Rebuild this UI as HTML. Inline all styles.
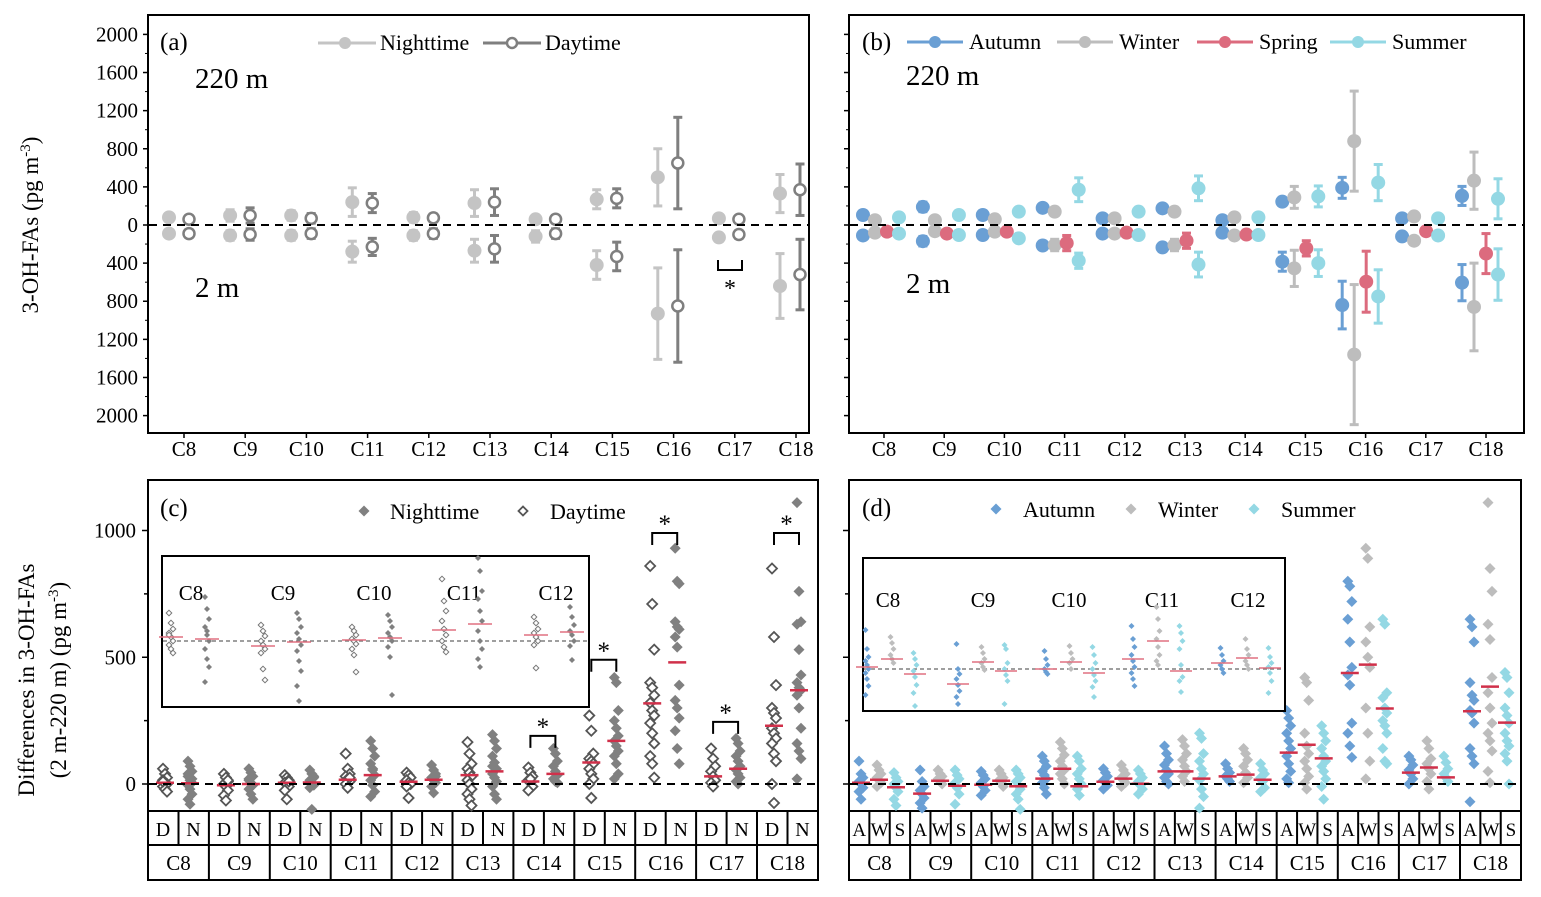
<!DOCTYPE html>
<html><head><meta charset="utf-8"><style>
html,body{margin:0;padding:0;background:#fff}
svg{display:block}
text{font-family:"Liberation Serif","Times New Roman","DejaVu Serif",serif}
</style></head><body>
<svg id="s" width="1541" height="897" viewBox="0 0 1541 897" xmlns="http://www.w3.org/2000/svg"></svg>
<script>
// ===== data =====
const cats=["C8","C9","C10","C11","C12","C13","C14","C15","C16","C17","C18"];
const yTicksAB=[2000,1600,1200,800,400,0,-400,-800,-1200,-1600,-2000];
const yTicksCD=[0,500,1000];
// (a) mean / err
const aNight220=[80,100,100,240,80,230,60,270,500,70,330];
const aNight220E=[40,60,50,150,50,140,40,100,300,40,200];
const aDay220=[60,100,70,230,75,240,60,280,650,60,370];
const aDay220E=[40,80,50,100,40,140,40,100,480,30,270];
const aNight2=[90,110,110,280,110,270,120,420,930,130,640];
const aNight2E=[40,50,50,110,50,120,60,150,480,40,340];
const aDay2=[90,100,90,230,90,250,90,330,850,100,520];
const aDay2E=[40,60,50,90,50,140,50,150,590,40,370];
// (b)
const bAut220=[105,190,105,180,70,175,50,245,390,70,305];
const bAut220E=[40,50,40,40,30,40,30,40,110,30,100];
const bWin220=[50,50,60,140,70,140,80,290,880,90,465];
const bWin220E=[30,30,30,40,30,40,30,115,525,30,300];
const bSum220=[80,105,140,370,140,385,80,300,445,70,275];
const bSum220E=[30,30,40,125,40,130,30,110,190,30,210];
const bAut2=[110,170,105,215,90,235,80,385,840,120,605];
const bAut2E=[40,50,40,40,40,40,30,100,250,30,190];
const bWin2=[80,65,70,210,90,210,110,455,1360,165,860];
const bWin2E=[30,30,30,60,30,60,30,190,735,40,460];
const bSpr2=[70,90,70,190,80,165,100,245,595,65,300];
const bSpr2E=[30,30,30,80,30,80,30,80,320,30,210];
const bSum2=[90,105,140,375,105,415,105,400,750,110,520];
const bSum2E=[30,30,30,80,30,130,30,140,280,30,270];
// (c)
const cDay=[[60,40,25,15,5,0,-10,-20,-30,10],[40,25,10,0,-10,-25,-45,-65,15],[35,25,15,5,0,-10,-25,-60,10],[120,60,40,30,20,10,0,-15,25],[45,35,25,15,5,0,-10,-55],[165,120,80,60,45,30,15,0,-20,-40,-60,-85],[65,45,30,15,5,-10,-25,20],[270,210,120,100,90,80,60,40,20,0,-55],[860,710,530,400,380,350,320,290,270,240,200,160,110,80,25],[140,100,70,50,30,15,5,-10],[850,580,390,300,280,260,220,200,180,160,120,90,0,-75]];
const cNight=[[90,70,50,30,15,5,-5,-20,-40,-60,-80,20,40],[60,45,30,15,5,-5,-20,-40,-60,20],[55,40,25,15,5,-5,-15,-100,30],[170,140,110,80,55,35,15,-5,-30,-50,60],[75,55,40,25,15,5,-10,-35,30],[195,170,140,110,85,60,40,25,10,-10,-40,-60,70],[140,120,90,70,50,35,20,10,5],[420,400,290,250,220,190,170,150,130,110,80,40,20],[930,800,790,640,620,610,580,540,390,330,300,260,210,140,80],[180,160,130,110,90,70,55,40,25,10,0],[1110,760,640,630,530,430,400,380,370,350,300,220,160,130,100,20]];
const cDayMean=[5,-5,5,17,9,35,10,85,318,30,230];
const cNightMean=[3,0,6,35,17,50,40,170,480,60,370];
const cSig=[6,7,8,9,10];
const cSigLevel=[190,490,990,245,990];
const cInsetDay=[[28,18,12,8,4,0,-4,-8,-12,6],[16,10,5,0,-4,-8,-12,-28,-39],[14,10,6,2,0,-3,-8,-14,-31],[62,40,30,20,12,6,0,-6,-11],[24,18,12,8,4,0,-4,-27]];
const cInsetNight=[[44,32,22,14,6,0,-8,-18,-26,-41,10],[28,22,14,8,2,-4,-10,-20,-30,-45,-60],[26,20,14,8,4,0,-6,-16,-54],[83,70,50,42,30,20,10,0,-8,-18,-26],[34,24,16,10,6,0,-5,-19]];
const cInsetDayMean=[4,-5,1,11,6];
const cInsetNightMean=[2,-1,3,17,9];
// (d)
const dAut=[[90,40,25,10,0,-15,-30,-60],[55,10,-10,-25,-40,-55,-75,-95],[50,35,20,5,-10,-25,-45],[110,90,70,50,35,20,5,-15,-40],[60,45,30,15,5,-5,-20],[150,120,95,75,55,40,25,10,0],[80,60,45,30,20,10],[290,260,230,200,170,140,110,80,50,20,5],[800,780,720,650,560,460,430,390,240,200,150,105],[110,95,75,55,40,20,0],[650,620,560,400,350,330,290,280,240,140,110,80,-70]];
const dWin=[[75,55,40,25,15,5,-10],[55,40,30,20,10,0],[55,40,25,15,5,-10],[165,140,115,90,70,55,40,20,0],[75,55,40,25,15,5,-10],[175,150,120,95,70,50,30,10],[140,120,95,70,45,25,5],[420,400,330,200,150,120,90,60,30,5,-20],[930,890,620,560,500,460,300,200,90,20],[170,140,100,80,60,40,10,-20],[1110,850,760,630,570,420,360,300,240,200,170,130,50,5]];
const dSum=[[45,25,10,0,-15,-30,-60,-85],[55,35,20,5,-15,-40,-80],[55,40,25,10,-5,-20,-40,-60,-100],[110,90,60,40,20,0,-20,-45],[55,40,25,10,-5,-20,-40],[200,180,120,90,60,40,15,-20,-50,-95],[80,55,40,25,10,-15,-30],[230,200,170,140,110,90,70,50,20,-10,-60],[650,630,360,340,300,280,250,230,200,140,90,80],[110,85,60,40,25,10],[440,420,360,300,270,240,200,170,150,120,90,0]];
const dAutMean=[5,-38,-3,21,9,50,30,124,438,45,287];
const dWinMean=[17,13,13,60,21,50,37,155,471,65,384];
const dSumMean=[-13,-7,-9,-9,1,21,17,101,298,26,242];
const dInsetAut=[[39,20,12,8,4,0,-4,-10,-17,-26],[25,0,-5,-10,-16,-22,-28,-35],[18,10,4,0,-3,-5],[43,30,22,14,8,2,-4,-10,-17],[21,14,8,4,0,-4]];
const dInsetWin=[[32,26,20,14,10,6],[22,16,10,6,2,-1],[23,16,10,6,0],[62,50,38,30,22,14,8,4],[30,20,14,8,4,0]];
const dInsetSum=[[16,10,4,-2,-8,-16,-24,-37],[24,20,6,0,-6,-12,-35],[22,14,6,0,-6,-12,-18,-28],[43,36,28,20,4,-8,-12,-23],[21,12,6,2,-4,-12,-24]];
const dInsetAutMean=[2,-15,0,10,6];
const dInsetWinMean=[10,7,7,28,11];
const dInsetSumMean=[-5,-2,-4,-2,1];

// ===== helpers =====
const S=document.getElementById('s');const NS="http://www.w3.org/2000/svg";
const FF='"Liberation Serif","Times New Roman","DejaVu Serif",serif';
function mk(tag,at,parent){const e=document.createElementNS(NS,tag);for(const k in at)e.setAttribute(k,at[k]);(parent||S).appendChild(e);return e;}
function txt(x,y,t,size,anchor,parent){const e=mk('text',{x:x,y:y,'font-size':size,'text-anchor':anchor||'start',fill:'#000'},parent);e.style.fontFamily=FF;e.textContent=t;return e;}
function grp(name){const g=mk('g',{});return g;}
function diamond(x,y,r,fill,stroke,sw,g){return mk('path',{d:`M${x} ${y-r}L${x+r} ${y}L${x} ${y+r}L${x-r} ${y}Z`,fill:fill,stroke:stroke,'stroke-width':sw},g);}
const yAB=v=>225-v*0.0953;
const yCD=v=>784-v*0.2535;
const xA=i=>179+61.1*i;
const xAl=i=>184+61.2*i;
const xB=i=>881+59.9*i;
const xBl=i=>884+60.2*i;
const xC=i=>148+60.9*i;
const xD=i=>849+61.1*i;

function frame(x,y,w,h,name){const r=mk('rect',{x:x,y:y,width:w,height:h,fill:'none',stroke:'#000','stroke-width':2});}
function yAxisAB(x0,labels,g){
  yTicksAB.forEach(v=>{const y=yAB(v);mk('line',{x1:x0-5,x2:x0,y1:y,y2:y,stroke:'#000','stroke-width':1.5},g);
    if(labels){const t=txt(x0-10,y+7,String(Math.abs(v)),21,'end',g);}
    if(v>-2000)mk('line',{x1:x0-3,x2:x0,y1:yAB(v-200),y2:yAB(v-200),stroke:'#000','stroke-width':1},g);});
}
function xAxisAB(xf,g){cats.forEach((c,i)=>{const x=xf(i);mk('line',{x1:x,x2:x,y1:433,y2:438,stroke:'#000','stroke-width':1.5},g);
  const t=txt(x,456,c,21,'middle',g);});}
function errPt(x,m,e,col,open,g){
  mk('line',{x1:x,x2:x,y1:yAB(m+e),y2:yAB(m-e),stroke:col,'stroke-width':3},g);
  mk('line',{x1:x-4.5,x2:x+4.5,y1:yAB(m+e),y2:yAB(m+e),stroke:col,'stroke-width':3},g);
  mk('line',{x1:x-4.5,x2:x+4.5,y1:yAB(m-e),y2:yAB(m-e),stroke:col,'stroke-width':3},g);
  if(open)mk('circle',{cx:x,cy:yAB(m),r:5.5,fill:'#fff',stroke:col,'stroke-width':2.5},g);
  else mk('circle',{cx:x,cy:yAB(m),r:7,fill:col},g);
}
function zeroLine(x1,x2,y){mk('line',{x1:x1,x2:x2,y1:y,y2:y,stroke:'#000','stroke-width':2,'stroke-dasharray':'8,6'});}

// ===== panel a =====
const gA=grp('panel-a');
frame(148,15,661,418,'panel-a-frame');
zeroLine(149,808,225);
yAxisAB(148,true,gA);xAxisAB(xAl,gA);
const NC='#c4c4c4',DC='#7f7f7f';
cats.forEach((c,i)=>{
  errPt(xA(i)-10,aNight220[i],aNight220E[i],NC,false,gA);
  errPt(xA(i)+10,aDay220[i],aDay220E[i],DC,true,gA);
  errPt(xA(i)-10,-aNight2[i],aNight2E[i],NC,false,gA);
  errPt(xA(i)+10,-aDay2[i],aDay2E[i],DC,true,gA);
});
mk('path',{d:'M718 260V270H742V260',fill:'none',stroke:'#000','stroke-width':2},gA);
txt(730,296,'*',24,'middle',gA);
txt(160,50,'(a)',25,'start',gA);
txt(195,88,'220 m',29,'start',gA);
txt(195,297,'2 m',29,'start',gA);
const legA=grp('legend-a');
mk('line',{x1:318,x2:376,y1:43,y2:43,stroke:NC,'stroke-width':3},legA);mk('circle',{cx:345,cy:43,r:6,fill:NC},legA);
txt(380,50,'Nighttime',22,'start',legA);
mk('line',{x1:483,x2:541,y1:43,y2:43,stroke:DC,'stroke-width':3},legA);mk('circle',{cx:512,cy:43,r:5,fill:'#fff',stroke:DC,'stroke-width':2.5},legA);
txt(545,50,'Daytime',22,'start',legA);
const yt=txt(0,0,'3-OH-FAs (pg m',23,'middle');yt.setAttribute('transform','translate(38,225) rotate(-90)');

const sup=mk('tspan',{dy:-8,'font-size':15},yt);sup.textContent='-3';const cl=mk('tspan',{dy:8},yt);cl.textContent=')';

// ===== panel b =====
const gB=grp('panel-b');
frame(849,15,675,418,'panel-b-frame');
zeroLine(850,1523,225);
yAxisAB(849,false,gB);xAxisAB(xBl,gB);
const AC='#6a9fd4',WC='#bdbdbd',SPC='#dc6b7e',SUC='#94d8e4';
cats.forEach((c,i)=>{const x=xB(i);
  errPt(x-18,bAut220[i],bAut220E[i],AC,false,gB);
  errPt(x-6,bWin220[i],bWin220E[i],WC,false,gB);
  errPt(x+18,bSum220[i],bSum220E[i],SUC,false,gB);
  errPt(x-18,-bAut2[i],bAut2E[i],AC,false,gB);
  errPt(x-6,-bWin2[i],bWin2E[i],WC,false,gB);
  errPt(x+6,-bSpr2[i],bSpr2E[i],SPC,false,gB);
  errPt(x+18,-bSum2[i],bSum2E[i],SUC,false,gB);
});
txt(862,50,'(b)',25,'start',gB);
txt(906,85,'220 m',29,'start',gB);
txt(906,293,'2 m',29,'start',gB);
const legB=grp('legend-b');
[[907,'Autumn',AC],[1057,'Winter',WC],[1197,'Spring',SPC],[1330,'Summer',SUC]].forEach(l=>{
  mk('line',{x1:l[0],x2:l[0]+56,y1:42,y2:42,stroke:l[2],'stroke-width':3},legB);mk('circle',{cx:l[0]+28,cy:42,r:6,fill:l[2]},legB);
  txt(l[0]+62,49,l[1],22,'start',legB);});

// ===== panel c =====
const gC=grp('panel-c');
frame(148,480,670,400,'panel-c-frame');
mk('line',{x1:148,x2:818,y1:811,y2:811,stroke:'#000','stroke-width':2},gC);
mk('line',{x1:148,x2:818,y1:845,y2:845,stroke:'#000','stroke-width':2},gC);
zeroLine(149,817,yCD(0));
[0,250,500,750,1000].forEach(v=>{const y=yCD(v);const maj=v%500==0;mk('line',{x1:maj?142:144,x2:148,y1:y,y2:y,stroke:'#000','stroke-width':1.5},gC);});
yTicksCD.forEach(v=>{const t=txt(136,yCD(v)+7,String(v),21,'end',gC);});
const RED='#d0304a';
cats.forEach((c,i)=>{const x0=xC(i);
  if(i>0)mk('line',{x1:x0,x2:x0,y1:811,y2:880,stroke:'#000','stroke-width':2},gC);
  mk('line',{x1:x0+30.5,x2:x0+30.5,y1:811,y2:845,stroke:'#000','stroke-width':2},gC);
  txt(x0+15,836,'D',20,'middle',gC);txt(x0+45.5,836,'N',20,'middle',gC);
  const t=txt(x0+30.5,870,c,21,'middle',gC);
  cDay[i].forEach((v,k)=>{const d=diamond(x0+17+((k%3)-1)*2,yCD(v),5,'#fff','#555',1.8,gC);});
  cNight[i].forEach((v,k)=>{const d=diamond(x0+42+((k%3)-1)*2,yCD(v),5.5,'#808080','none',0,gC);});
  mk('line',{x1:x0+8,x2:x0+26,y1:yCD(cDayMean[i]),y2:yCD(cDayMean[i]),stroke:RED,'stroke-width':2.5},gC);
  mk('line',{x1:x0+33,x2:x0+51,y1:yCD(cNightMean[i]),y2:yCD(cNightMean[i]),stroke:RED,'stroke-width':2.5},gC);
});
cSig.forEach((i,k)=>{const x0=xC(i);const y=yCD(cSigLevel[k]);
  mk('path',{d:`M${x0+17} ${y+12}V${y}H${x0+42}V${y+12}`,fill:'none',stroke:'#000','stroke-width':2},gC);
  txt(x0+29.5,y-1,'*',25,'middle',gC);});
const gCi=grp('inset-c');
mk('rect',{x:162,y:556,width:427,height:151,fill:'#fff',stroke:'#000','stroke-width':2},gCi);
mk('line',{x1:163,x2:588,y1:641,y2:641,stroke:'#666','stroke-width':1.3,'stroke-dasharray':'4,3'},gCi);
const ciX=[171,263,354,444,536];
cInsetDay.forEach((arr,j)=>{const x=ciX[j];
  txt(x+20,600,cats[j],21,'middle',gCi);
  arr.forEach((v,k)=>diamond(x+((k%3)-1)*2,641-v,2.8,'#fff','#777',1,gCi));
  cInsetNight[j].forEach((v,k)=>diamond(x+36+((k%3)-1)*2,641-v,3,'#808080','none',0,gCi));
  mk('line',{x1:x-12,x2:x+12,y1:641-cInsetDayMean[j],y2:641-cInsetDayMean[j],stroke:'#e07080','stroke-width':1.5},gCi);
  mk('line',{x1:x+24,x2:x+48,y1:641-cInsetNightMean[j],y2:641-cInsetNightMean[j],stroke:'#e07080','stroke-width':1.5},gCi);
});
txt(160,516,'(c)',25,'start',gC);
const legC=grp('legend-c');
diamond(364,511,5.5,'#808080','none',0,legC);txt(390,519,'Nighttime',22,'start',legC);
diamond(523,511,4.5,'#fff','#555',1.8,legC);txt(550,519,'Daytime',22,'start',legC);
const yc1=txt(0,0,'Differences in 3-OH-FAs',23,'middle');yc1.setAttribute('transform','translate(34,680) rotate(-90)');

const yc2=txt(0,0,'(2 m-220 m) (pg m',23,'middle');yc2.setAttribute('transform','translate(66,680) rotate(-90)');
const s2=mk('tspan',{dy:-8,'font-size':15},yc2);s2.textContent='-3';const c2=mk('tspan',{dy:8},yc2);c2.textContent=')';

// ===== panel d =====
const gD=grp('panel-d');
frame(849,480,672,400,'panel-d-frame');
mk('line',{x1:849,x2:1521,y1:811,y2:811,stroke:'#000','stroke-width':2},gD);
mk('line',{x1:849,x2:1521,y1:845,y2:845,stroke:'#000','stroke-width':2},gD);
zeroLine(850,1520,yCD(0));
[0,250,500,750,1000].forEach(v=>{const y=yCD(v);mk('line',{x1:v%500==0?843:845,x2:849,y1:y,y2:y,stroke:'#000','stroke-width':1.5},gD);});
cats.forEach((c,i)=>{const x0=xD(i);const cw=61.1/3;
  if(i>0)mk('line',{x1:x0,x2:x0,y1:811,y2:880,stroke:'#000','stroke-width':2},gD);
  mk('line',{x1:x0+cw,x2:x0+cw,y1:811,y2:845,stroke:'#000','stroke-width':2},gD);
  mk('line',{x1:x0+2*cw,x2:x0+2*cw,y1:811,y2:845,stroke:'#000','stroke-width':2},gD);
  ['A','W','S'].forEach((l,k)=>txt(x0+cw*(k+0.5),836,l,19,'middle',gD));
  const t=txt(x0+30.5,870,c,21,'middle',gD);
  [[dAut,AC,12,dAutMean],[dWin,WC,30,dWinMean],[dSum,SUC,47,dSumMean]].forEach(sr=>{
    sr[0][i].forEach((v,k)=>{const d=diamond(x0+sr[2]+((k%3)-1)*2,yCD(v),5.5,sr[1],'none',0,gD);});
    mk('line',{x1:x0+sr[2]-9,x2:x0+sr[2]+9,y1:yCD(sr[3][i]),y2:yCD(sr[3][i]),stroke:RED,'stroke-width':2.5},gD);
  });
});
const gDi=grp('inset-d');
mk('rect',{x:863,y:558,width:422,height:153,fill:'#fff',stroke:'#000','stroke-width':2},gDi);
mk('line',{x1:864,x2:1284,y1:669,y2:669,stroke:'#666','stroke-width':1.3,'stroke-dasharray':'4,3'},gDi);
const diX=[867,958,1046,1133,1222];const diLab=[888,983,1069,1162,1248];
dInsetAut.forEach((arr,j)=>{const x=diX[j];
  txt(diLab[j],607,cats[j],21,'middle',gDi);
  [[dInsetAut,AC,0,dInsetAutMean],[dInsetWin,WC,25,dInsetWinMean],[dInsetSum,SUC,48,dInsetSumMean]].forEach(sr=>{
    sr[0][j].forEach((v,k)=>diamond(x+sr[2]+((k%3)-1)*1.5,669-v,3,sr[1],'none',0,gDi));
    mk('line',{x1:x+sr[2]-11,x2:x+sr[2]+11,y1:669-sr[3][j],y2:669-sr[3][j],stroke:'#e07080','stroke-width':1.5},gDi);
  });
});
txt(862,516,'(d)',25,'start',gD);
const legD=grp('legend-d');
[[996,'Autumn',AC],[1131,'Winter',WC],[1254,'Summer',SUC]].forEach(l=>{diamond(l[0],509,5.5,l[2],'none',0,legD);txt(l[0]+27,517,l[1],22,'start',legD);});
</script>
</body></html>
